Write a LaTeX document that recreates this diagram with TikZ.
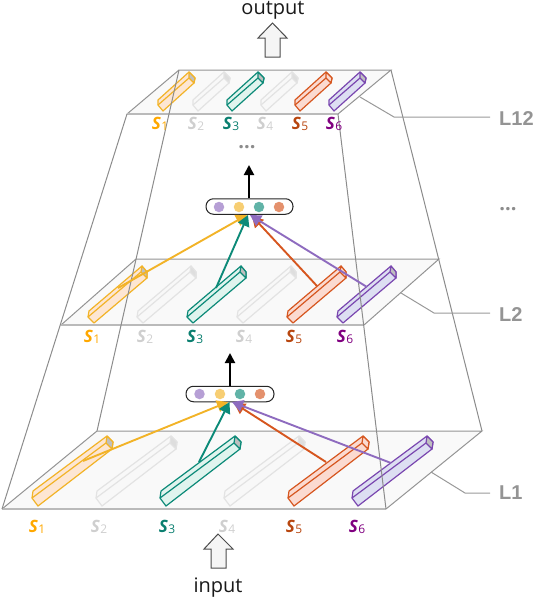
\documentclass[tikz,border=0pt]{standalone}
\usepackage{fontspec}
\setmainfont{Open Sans}
\newfontfamily\lblfont{Liberation Sans}
\usetikzlibrary{arrows.meta,calc}
\definecolor{cgold}{HTML}{F2B327}\definecolor{fgold}{HTML}{FDE6D3}
\definecolor{cteal}{HTML}{0C8A78}\definecolor{fteal}{HTML}{E0F4EE}
\definecolor{corg}{HTML}{D6561F}\definecolor{forg}{HTML}{FBDAD0}
\definecolor{cpur}{HTML}{7A47B0}\definecolor{fpur}{HTML}{DDDFF2}
\definecolor{cgray}{HTML}{E3E3E3}\definecolor{fgray}{HTML}{F8F8F8}
\definecolor{lgold}{HTML}{FFA800}\definecolor{lgray}{HTML}{CFCFCF}
\definecolor{lteal}{HTML}{0B7F70}\definecolor{lorg}{HTML}{B8460F}\definecolor{lpur}{HTML}{800080}
\definecolor{apur}{HTML}{8E6BBF}\definecolor{pfill}{HTML}{F9F9F9}
\tikzset{
 planebox/.style={draw=black!42,line width=1pt},
 planefront/.style={draw=black!27,line width=1.4pt},
 frameline/.style={draw=black!45,line width=1pt},
 leader/.style={draw=black!40,line width=1pt},
 link/.style={line width=1.9pt,-{Triangle[length=11pt,width=12pt]}},
 upflow/.style={line width=2pt,black,-{Triangle[length=10pt,width=10pt]}},
 pill/.style={draw=black!85,line width=1pt,rounded corners=7.5pt,minimum height=15.5pt,inner sep=0pt,fill=white},
 dot/.style={circle,inner sep=0pt,minimum size=10.5pt},
 lay/.style={font=\lblfont\bfseries\fontsize{20}{20}\selectfont,text=black!42},
 more/.style={font=\bfseries\fontsize{20}{20}\selectfont,text=black!45,inner sep=0pt,anchor=base},
 word/.style={font=\fontsize{20}{20}\selectfont,text=black!90,inner sep=0pt,anchor=base},
 bigarrow/.style={draw=black!70,fill=black!4,line width=1pt,line join=miter},
}
\newcommand{\setgeom}[8]{\def\Ax{#1}\def\Ay{#2}\def\Bx{#3}\def\By{#4}\def\Fx{#5}\def\Fy{#6}\def\Ex{#7}\def\Ey{#8}}
\newcommand{\setgeomb}[4]{\def\Dx{#1}\def\Dy{#2}\def\Gx{#3}\def\Gy{#4}}
\newcommand{\prism}[5]{%
 \coordinate (t) at (#1,#2);
 \draw[draw=#3,fill=#4,line width=1.2pt,line join=round]
   ($(t)+(\Ax,\Ay)$) -- ($(t)+(\Bx,\By)$) -- (t) -- ($(t)+(\Dx,\Dy)$) -- ($(t)+(\Ex,\Ey)$) -- ($(t)+(\Fx,\Fy)$) -- cycle;
 \draw[draw=#3,fill=#5,line width=1.2pt,line join=round]
   ($(t)+(\Fx,\Fy)$) -- ($(t)+(\Ex,\Ey)$) -- ($(t)+(\Dx,\Dy)$) -- ($(t)+(\Gx,\Gy)$) -- cycle;
 \draw[draw=#3,line width=1.2pt] ($(t)+(\Bx,\By)$) -- ($(t)+(\Gx,\Gy)$);
}
\newcommand{\slabel}[5]{\node[text=#4,inner sep=0pt,anchor=base] (#1) at (#2,#3) {\fontsize{17}{17}\selectfont\bfseries\itshape S\kern.5pt\raisebox{-1.5pt}{\fontsize{12}{12}\selectfont\mdseries\upshape #5}};}
\begin{document}
\begin{tikzpicture}[x=1pt,y=-1pt]
\useasboundingbox (0,0) rectangle (536,598);
\coordinate (a1) at (2,509); \coordinate (b1) at (97,431); \coordinate (c1) at (482,431); \coordinate (d1) at (386,509);
\coordinate (a2) at (61,325); \coordinate (b2) at (136,259); \coordinate (c2) at (439,259); \coordinate (d2) at (364,325);
\coordinate (a3) at (127,114); \coordinate (b3) at (179,70); \coordinate (c3) at (391,70); \coordinate (d3) at (338,114);
\foreach \i in {1,2,3}{
 \fill[pfill] (a\i) -- (b\i) -- (c\i) -- (d\i) -- cycle;
 \draw[planebox] (a\i) -- (b\i) -- (c\i) -- (d\i);
 \draw[planefront] (a\i) -- (d\i);
}
% L1 bars
\setgeom{-5}{-15}{-6}{-8}{69}{-70}{75}{-64}\setgeomb{74}{-57}{68}{-63}
\prism{38}{506}{cgold}{fgold}{black!25}
\prism{102}{506}{cgray}{fgray}{black!13}
\prism{166}{506}{cteal}{fteal}{black!25}
\prism{230}{506}{cgray}{fgray}{black!13}
\prism{294}{506}{corg}{forg}{forg}
\prism{358}{506}{cpur}{fpur}{black!25}
% L2 bars
\setgeom{-5}{-12}{-6}{-6}{48}{-57}{53}{-51}\setgeomb{53}{-45}{47}{-51}
\prism{94}{323}{cgold}{fgold}{black!25}
\prism{143}{323}{cgray}{fgray}{black!13}
\prism{193}{323}{cteal}{fteal}{black!25}
\prism{243}{323}{cgray}{fgray}{black!13}
\prism{293}{323}{corg}{forg}{forg}
\prism{343}{323}{cpur}{fpur}{black!25}
% L12 bars
\setgeom{-5}{-11}{-5}{-6}{26}{-39}{32}{-33}\setgeomb{31}{-28}{26}{-33}
\prism{163}{111}{cgold}{fgold}{black!25}
\prism{198}{111}{cgray}{fgray}{black!13}
\prism{232}{111}{cteal}{fteal}{black!25}
\prism{266}{111}{cgray}{fgray}{black!13}
\prism{300}{111}{corg}{forg}{forg}
\prism{334}{111}{cpur}{fpur}{black!25}
% frame
\draw[frameline] (a1) -- (a3);
\draw[frameline] (b1) -- (b3);
\draw[frameline] (d1) -- (d3);
\draw[frameline] (c1) -- (c3);
% pills
\node[pill,minimum width=88pt] (p1) at (230,394) {};
\node[dot,fill=apur!65] (p1a) at (199.5,394) {};
\node[dot,fill=cgold!65] (p1b) at (220,394) {};
\node[dot,fill=cteal!65] (p1c) at (240,394) {};
\node[dot,fill=corg!65] (p1d) at (260,394) {};
\node[pill,minimum width=87pt] (p2) at (249.5,206.5) {};
\node[dot,fill=apur!65] (p2a) at (219,207) {};
\node[dot,fill=cgold!65] (p2b) at (239,207) {};
\node[dot,fill=cteal!65] (p2c) at (259,207) {};
\node[dot,fill=corg!65] (p2d) at (279,207) {};
% L1 links
\coordinate (s1a) at (83,461); \coordinate (s1c) at (199,462); \coordinate (s1e) at (326,462); \coordinate (s1f) at (391,463);
\coordinate (h1a) at (228,402); \coordinate (h1c) at (229.5,402); \coordinate (h1e) at (234,403); \coordinate (h1f) at (232,402);
\draw[link,cgold] (s1a) -- (h1a);
\draw[link,corg] (s1e) -- (h1e);
\draw[link,apur] (s1f) -- (h1f);
\draw[link,cteal] (s1c) -- (h1c);
% L2 links
\coordinate (s2a) at (118,288); \coordinate (s2c) at (216,288); \coordinate (s2e) at (317,286); \coordinate (s2f) at (367,287);
\coordinate (h2a) at (247,215); \coordinate (h2c) at (248,215); \coordinate (h2e) at (252,216); \coordinate (h2f) at (250,215);
\draw[link,cgold] (s2a) -- (h2a);
\draw[link,corg] (s2e) -- (h2e);
\draw[link,apur] (s2f) -- (h2f);
\draw[link,cteal] (s2c) -- (h2c);
% up arrows
\coordinate (u1) at (230,353); \draw[upflow] (p1.north -| u1) -- (u1);
\coordinate (u2) at (249,165); \draw[upflow] (p2.north -| u2) -- (u2);
% leaders & labels
\node[lay,anchor=west,inner sep=0pt] (l1) at (499,493) {L1};
\node[lay,anchor=west,inner sep=0pt] (l2) at (499,315) {L2};
\node[lay,anchor=west,inner sep=0pt] (l3) at (499,119) {L12};
\coordinate (e1) at (431,472); \coordinate (k1) at (465,493); \coordinate (f1) at (490,493);
\coordinate (e2) at (401,293); \coordinate (k2) at (434,313); \coordinate (f2) at (490,313);
\coordinate (e3) at (360,97); \coordinate (k3) at (394,117); \coordinate (f3) at (490,117);
\draw[leader] (e1) -- (k1) -- (f1);
\draw[leader] (e2) -- (k2) -- (f2);
\draw[leader] (e3) -- (k3) -- (f3);
% S labels
\slabel{n11}{37}{532}{lgold}{1}
\slabel{n12}{99}{532}{lgray}{2}
\slabel{n13}{167}{532}{lteal}{3}
\slabel{n14}{227}{532}{lgray}{4}
\slabel{n15}{294}{532}{lorg}{5}
\slabel{n16}{357}{532}{lpur}{6}
\slabel{n21}{92}{342}{lgold}{1}
\slabel{n22}{145}{342}{lgray}{2}
\slabel{n23}{195}{342}{lteal}{3}
\slabel{n24}{244}{342}{lgray}{4}
\slabel{n25}{294}{342}{lorg}{5}
\slabel{n26}{345}{342}{lpur}{6}
\slabel{n31}{160}{129}{lgold}{1}
\slabel{n32}{196}{129}{lgray}{2}
\slabel{n33}{231}{129}{lteal}{3}
\slabel{n34}{265}{129}{lgray}{4}
\slabel{n35}{300}{129}{lorg}{5}
\slabel{n36}{334}{129}{lpur}{6}
% dots
\node[more] (m1) at (247,148) {...};
\node[more] (m2) at (508,210) {...};
% big arrows
\draw[bigarrow] (218,534) -- (233,549) -- (226,549) -- (226,568) -- (211,568) -- (211,549) -- (204,549) -- cycle;
\draw[bigarrow] (272.5,23) -- (287,38) -- (280,38) -- (280,57) -- (265,57) -- (265,38) -- (258,38) -- cycle;
\node[word] (in) at (218,592) {input};
\node[word] (out) at (273,14.5) {output};
\end{tikzpicture}
\end{document}
